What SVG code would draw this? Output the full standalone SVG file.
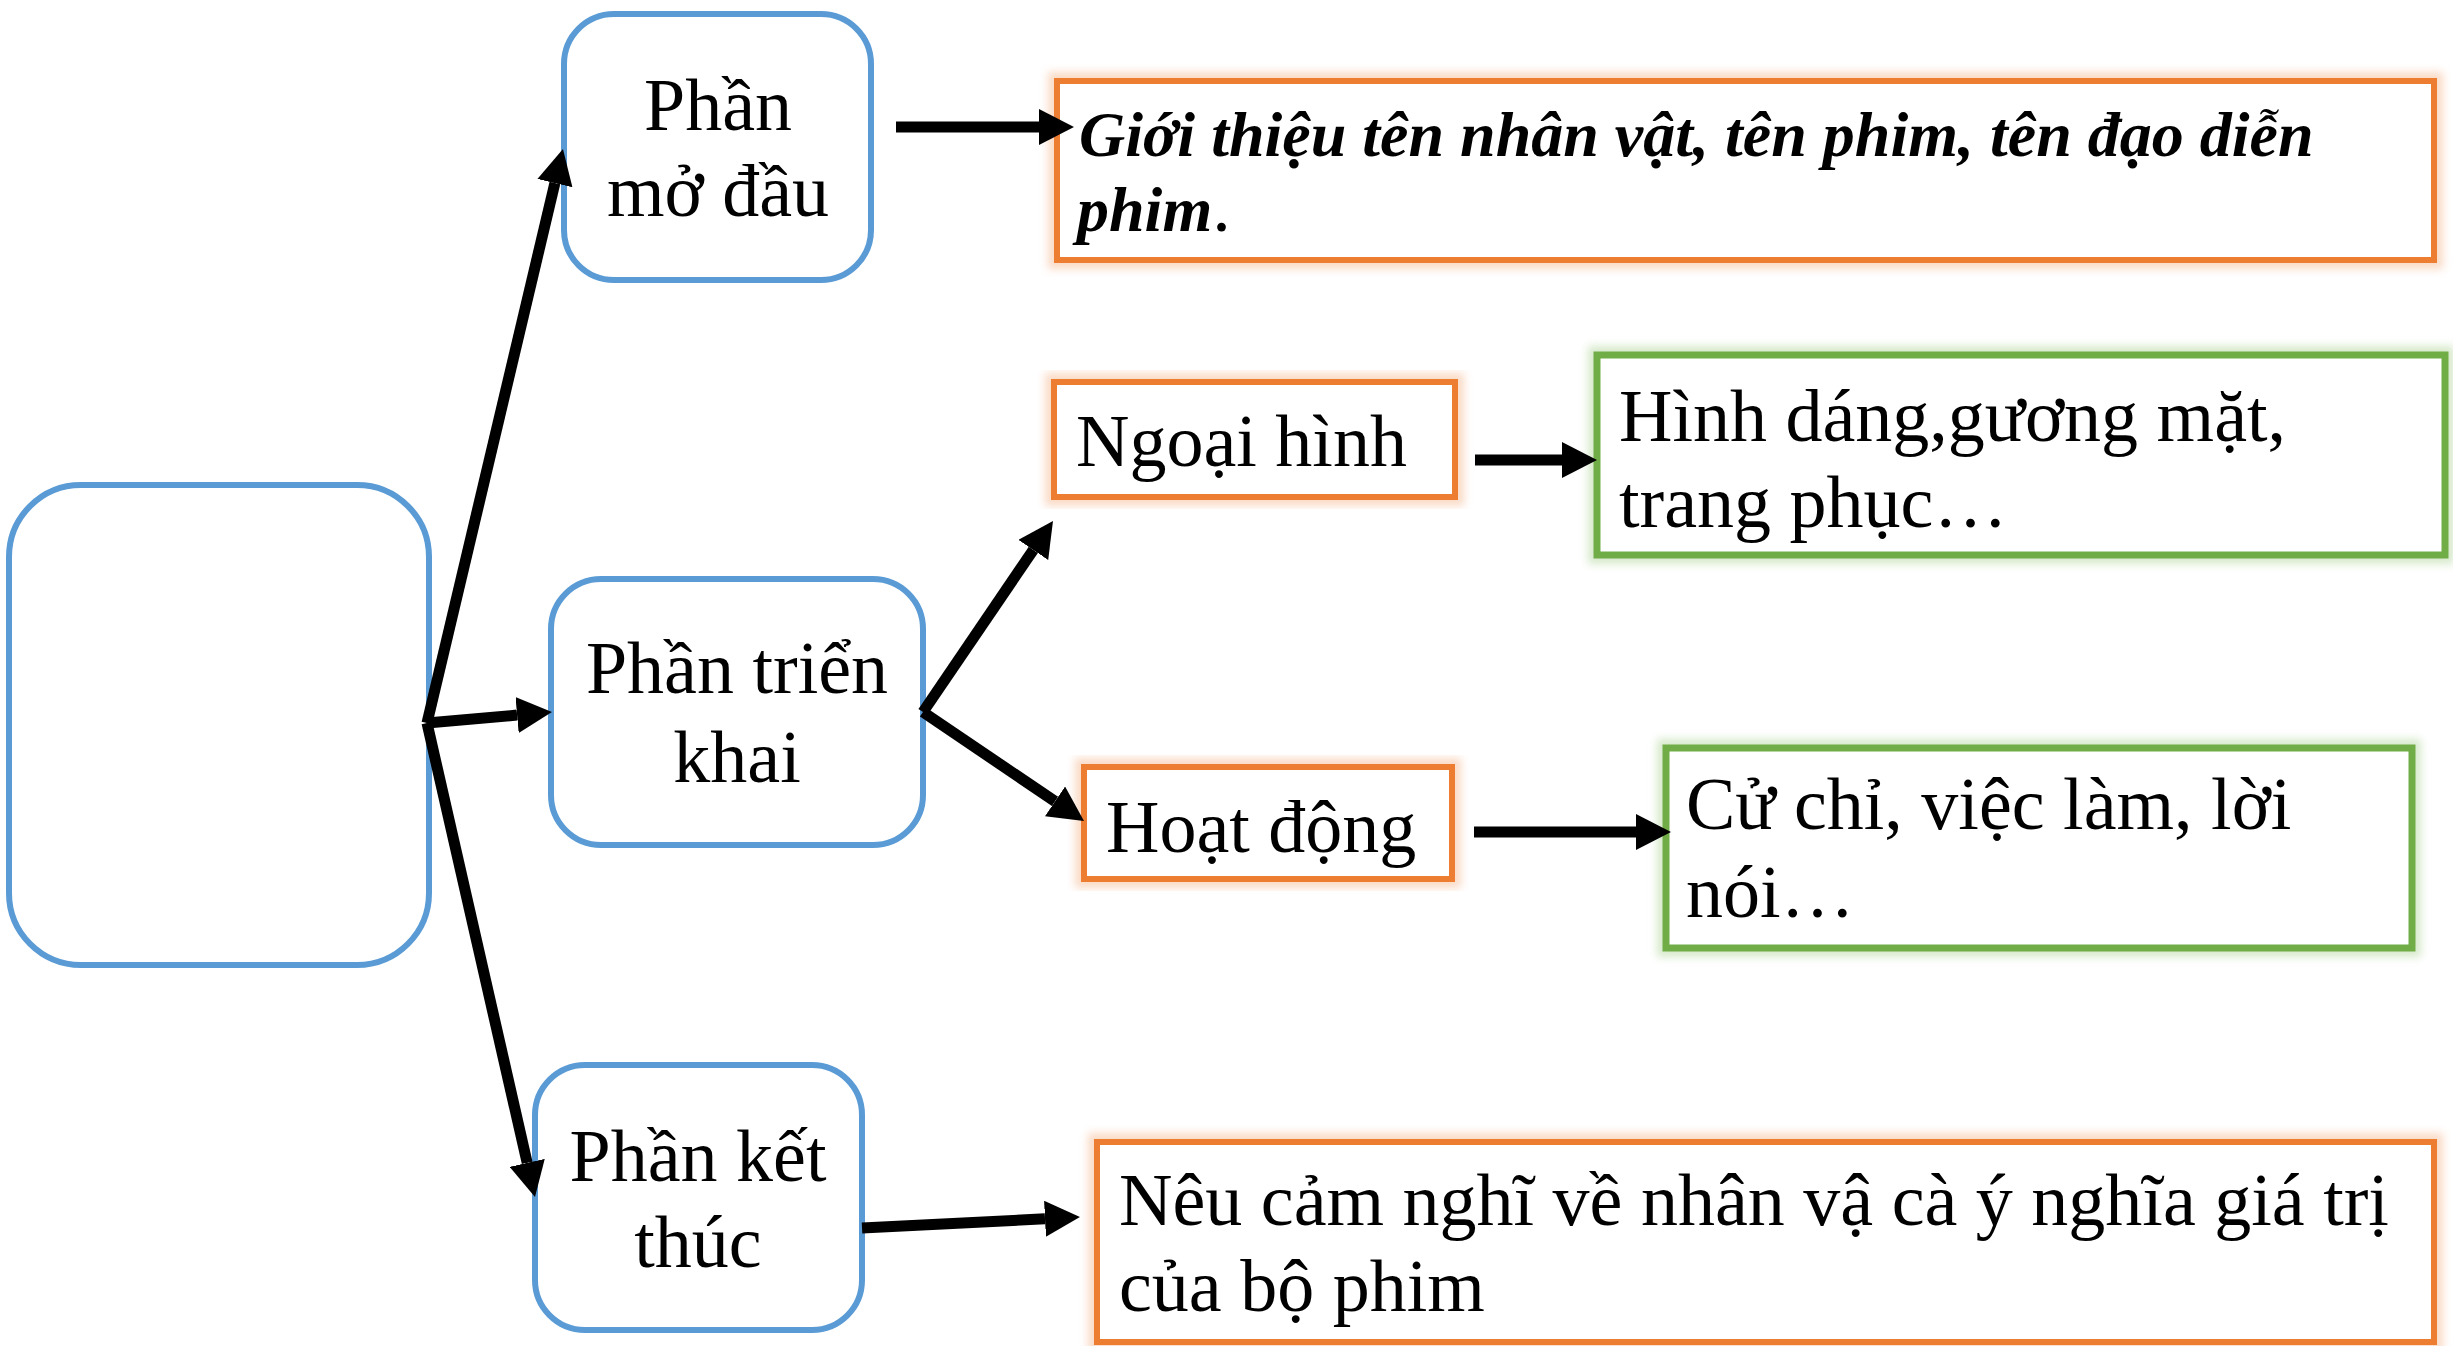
<svg xmlns="http://www.w3.org/2000/svg" width="2453" height="1346" viewBox="0 0 2453 1346">
<style>
.blue{fill:#fff;stroke:#5B9BD5;stroke-width:6}
.orange{fill:#fff;stroke:#ED7D31;stroke-width:6}
.green{fill:#fff;stroke:#70AD47;stroke-width:7}
.glowO{fill:none;stroke:#F8CBAD;stroke-width:18;opacity:0.7}
.glowG{fill:none;stroke:#C5E0B4;stroke-width:18;opacity:0.7}
.t{font-family:"Liberation Serif","Times New Roman",serif;font-size:74px;fill:#000}
.c{text-anchor:middle}
.bi{font-weight:bold;font-style:italic;font-size:64px}
.con{stroke:#000;stroke-width:11;fill:none}
</style>
<defs>
<marker id="ah" markerUnits="userSpaceOnUse" viewBox="0 -18 35 36" markerWidth="35" markerHeight="36" refX="0" refY="0" orient="auto">
<path d="M0,-18 L35,0 L0,18 z" fill="#000"/>
</marker>
<filter id="blur" x="-10%" y="-10%" width="120%" height="120%"><feGaussianBlur stdDeviation="4"/></filter>
</defs>
<rect width="2453" height="1346" fill="#fff"/>

<g id="root"><rect class="blue" x="9" y="485" width="420" height="480" rx="72"/></g>

<g id="mo-dau"><rect class="blue" x="564" y="14" width="307" height="266" rx="50"/>
<text class="t c" x="718" y="130">Phần</text><text class="t c" x="718" y="216">mở đầu</text></g>

<g id="trien-khai"><rect class="blue" x="551" y="579" width="372" height="266" rx="50"/>
<text class="t c" x="737" y="693">Phần triển</text><text class="t c" x="737" y="782">khai</text></g>

<g id="ket-thuc"><rect class="blue" x="535" y="1065" width="327" height="265" rx="50"/>
<text class="t c" x="698" y="1181">Phần kết</text><text class="t c" x="698" y="1267">thúc</text></g>

<g id="gioi-thieu"><rect class="glowO" x="1057" y="81" width="1377" height="179" filter="url(#blur)"/><rect class="orange" x="1057" y="81" width="1377" height="179"/>
<text class="t bi" x="1079" y="156">Giới thiệu tên nhân vật, tên phim, tên đạo diễn</text>
<text class="t" x="1077" y="231"><tspan class="bi">phim</tspan><tspan>.</tspan></text></g>

<g id="ngoai-hinh"><rect class="glowO" x="1054" y="382" width="401" height="115" filter="url(#blur)"/><rect class="orange" x="1054" y="382" width="401" height="115"/>
<text class="t" x="1076" y="466">Ngoại hình</text></g>

<g id="hinh-dang"><rect class="glowG" x="1597" y="355" width="848" height="200" filter="url(#blur)"/><rect class="green" x="1597" y="355" width="848" height="200"/>
<text class="t" x="1619" y="441">Hình dáng,gương mặt,</text><text class="t" x="1619" y="527">trang phục…</text></g>

<g id="hoat-dong"><rect class="glowO" x="1084" y="767" width="368" height="112" filter="url(#blur)"/><rect class="orange" x="1084" y="767" width="368" height="112"/>
<text class="t" x="1106" y="852">Hoạt động</text></g>

<g id="cu-chi"><rect class="glowG" x="1666" y="748" width="746" height="200" filter="url(#blur)"/><rect class="green" x="1666" y="748" width="746" height="200"/>
<text class="t" x="1686" y="829">Cử chỉ, việc làm, lời</text><text class="t" x="1686" y="917">nói…</text></g>

<g id="neu-cam-nghi"><rect class="glowO" x="1097" y="1142" width="1337" height="200" filter="url(#blur)"/><rect class="orange" x="1097" y="1142" width="1337" height="200"/>
<text class="t" x="1119" y="1225">Nêu cảm nghĩ về nhân vậ cà ý nghĩa giá trị</text><text class="t" x="1119" y="1311">của bộ phim</text></g>

<g id="connectors">
<line class="con" x1="427" y1="723" x2="554.9" y2="183.1" marker-end="url(#ah)"/>
<line class="con" x1="427" y1="723" x2="517.1" y2="715.1" marker-end="url(#ah)"/>
<line class="con" x1="427" y1="723" x2="527.2" y2="1162.9" marker-end="url(#ah)"/>
<line class="con" x1="923" y1="712" x2="1033.3" y2="549.9" marker-end="url(#ah)"/>
<line class="con" x1="923" y1="712" x2="1055" y2="801.4" marker-end="url(#ah)"/>
<line class="con" x1="896" y1="127" x2="1039" y2="127" marker-end="url(#ah)"/>
<line class="con" x1="1475" y1="460" x2="1562" y2="460" marker-end="url(#ah)"/>
<line class="con" x1="1474" y1="832" x2="1636" y2="832" marker-end="url(#ah)"/>
<line class="con" x1="862" y1="1228" x2="1045" y2="1218.8" marker-end="url(#ah)"/>
</g>
</svg>
